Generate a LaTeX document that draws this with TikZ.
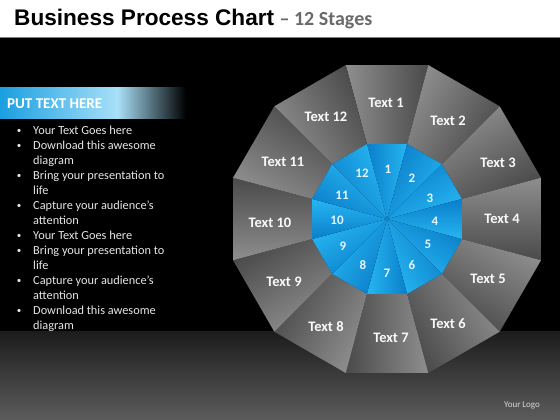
\documentclass[tikz,border=0pt]{standalone}
\usepackage{fontspec}
\setmainfont{Carlito}
\newfontfamily\titlefont{Liberation Sans}
\definecolor{floorA}{HTML}{1C1C1C}
\definecolor{floorB}{HTML}{5C5C5C}
\definecolor{bannerA}{HTML}{1A9FE0}
\definecolor{bannerB}{HTML}{A8E0F8}
\definecolor{grayL}{HTML}{8E8E8E}
\definecolor{grayD}{HTML}{4A4A4A}
\definecolor{blueL}{HTML}{26B6F2}
\definecolor{blueD}{HTML}{0B7ECA}
\definecolor{subgray}{HTML}{6A6A6A}
\definecolor{bodytext}{HTML}{E6E6E6}
\definecolor{numcol}{HTML}{E4F5FF}
\definecolor{logocol}{HTML}{D8D8D8}
\tikzset{
  lbl/.style={font=\bfseries\fontsize{14.5}{17}\selectfont, text=white!95!gray, inner sep=0},
  num/.style={font=\bfseries\fontsize{13}{15}\selectfont, text=numcol, inner sep=0},
  bodyline/.style={anchor=base west, font=\fontsize{12.3}{15}\selectfont, text=bodytext, inner sep=0},
  bulletmark/.style={anchor=base, font=\fontsize{9}{15}\selectfont, text=bodytext, inner sep=0}
}
\begin{document}
\begin{tikzpicture}[x=1pt,y=-1pt]
\useasboundingbox (0,0) rectangle (560,420);
% background
\fill[white] (0,0) rectangle (560,37);
\fill[black] (0,37) rectangle (560,332);
\draw[gray, line width=0.6pt] (0,37.3) -- (560,37.3);
\shade[top color=floorA, bottom color=floorB] (0,331.5) rectangle (560,420);
% title
\node[anchor=base west, inner sep=0, font=\titlefont\bfseries\fontsize{22.6}{26}\selectfont] (title) at (14,25.5) {Business Process Chart};
\node[anchor=base west, inner sep=0, text=subgray, font=\bfseries\fontsize{20}{24}\selectfont] (sub) at ([xshift=5pt]title.base east) {– 12 Stages};
% banner
\shade[left color=bannerA, right color=bannerB] (0,88) rectangle (118,118);
\shade[left color=bannerB, right color=black] (117.5,88) rectangle (186,118);
\node[anchor=west, inner sep=0, text=white, font=\bfseries\fontsize{15}{18}\selectfont] (banner) at (7,103.5) {PUT TEXT HERE};
% bullets
\foreach \i in {1,2,4,6,8,9,11,13}{
  \node[bulletmark] (b\i) at (19,{133+15*(\i-1)}) {•};
}
\foreach \i/\t in {1/Your Text Goes here, 2/Download this awesome, 3/diagram, 4/Bring your presentation to, 5/life, 6/Capture your audience’s, 7/attention, 8/Your Text Goes here, 9/Bring your presentation to, 10/life, 11/Capture your audience’s, 12/attention, 13/Download this awesome, 14/diagram}{
  \node[bodyline] (l\i) at (33,{134+15*(\i-1)}) {\t};
}
% wheel
\def\cx{387}\def\cy{219}\def\ri{77.6}\def\ro{159.4}
\coordinate (C) at (\cx,\cy);
\foreach \k in {1,...,12}{
  \pgfmathsetmacro\th{90-30*(\k-1)}
  \pgfmathsetmacro\sa{\th-180}
  \pgfmathsetmacro\aa{\th+15}
  \pgfmathsetmacro\ab{\th-15}
  \coordinate (i\k a) at ({\cx+\ri*cos(\aa)},{\cy-\ri*sin(\aa)});
  \coordinate (i\k b) at ({\cx+\ri*cos(\ab)},{\cy-\ri*sin(\ab)});
  \coordinate (o\k a) at ({\cx+\ro*cos(\aa)},{\cy-\ro*sin(\aa)});
  \coordinate (o\k b) at ({\cx+\ro*cos(\ab)},{\cy-\ro*sin(\ab)});
  \shade[top color=grayL, bottom color=grayD, shading angle=\th] (i\k a) -- (o\k a) -- (o\k b) -- (i\k b) -- cycle;
  \shade[top color=blueL, bottom color=blueD, shading angle=\sa] (C) -- (i\k a) -- (i\k b) -- cycle;
}
% outer labels
\node[lbl] (t1) at (386,103) {Text 1};
\node[lbl] (t2) at (448,121) {Text 2};
\node[lbl] (t3) at (498,163) {Text 3};
\node[lbl] (t4) at (502,219) {Text 4};
\node[lbl] (t5) at (488,279) {Text 5};
\node[lbl] (t6) at (448,324) {Text 6};
\node[lbl] (t7) at (391,338) {Text 7};
\node[lbl] (t8) at (326,327) {Text 8};
\node[lbl] (t9) at (284,282) {Text 9};
\node[lbl] (t10) at (270,223) {Text 10};
\node[lbl] (t11) at (283,162) {Text 11};
\node[lbl] (t12) at (326,117) {Text 12};
% inner numbers
\node[num] (n1) at (388,169) {1};
\node[num] (n2) at (412,178) {2};
\node[num] (n3) at (430,198) {3};
\node[num] (n4) at (435,221) {4};
\node[num] (n5) at (428,244) {5};
\node[num] (n6) at (412,265) {6};
\node[num] (n7) at (387,273) {7};
\node[num] (n8) at (363,265) {8};
\node[num] (n9) at (343,246) {9};
\node[num] (n10) at (337,220) {10};
\node[num] (n11) at (342,195) {11};
\node[num] (n12) at (362,173) {12};
% logo
\node[inner sep=0, text=logocol, font=\fontsize{9}{11}\selectfont] (logo) at (522,405.5) {Your Logo};
\end{tikzpicture}
\end{document}
